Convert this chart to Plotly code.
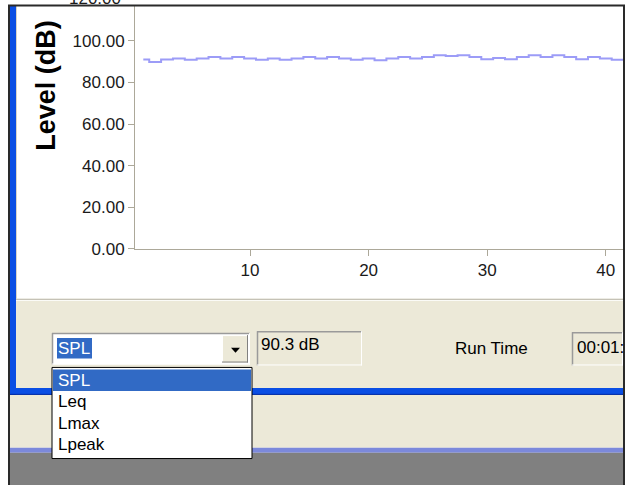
import plotly.graph_objects as go

# ---- data ----
time_s = list(range(1, 43))
spl_db = [91.0, 89.8, 91.0, 91.5, 90.9, 91.5, 92.2, 91.5, 92.2, 91.5,
          90.9, 91.5, 90.9, 91.5, 92.2, 91.5, 92.2, 91.5, 90.9, 91.5,
          90.7, 91.5, 92.2, 91.5, 92.2, 93.1, 92.7, 93.1, 92.2, 91.2,
          91.8, 91.2, 92.2, 93.1, 92.2, 93.1, 92.2, 91.2, 92.2, 91.5,
          90.9, 90.9]
x_ticks = [10, 20, 30, 40]
y_ticks = [0, 20, 40, 60, 80, 100]
y_title = "Level (dB)"
list_items = ["SPL", "Leq", "Lmax", "Lpeak"]
current_value = "90.3 dB"
run_time_label = "Run Time"
run_time_value = "00:01:"

W, H = 625, 495
FONT = "Liberation Sans, Arial, sans-serif"


def X(px):
    return px / W


def Y(py):
    return 1 - py / H


shapes = []


def rect(x0, y0, x1, y1, fill, line=None, lw=1, layer="above"):
    shapes.append(dict(type="rect", xref="paper", yref="paper",
                       x0=X(x0), x1=X(x1), y0=Y(y1), y1=Y(y0),
                       fillcolor=fill,
                       line=dict(color=line if line else fill, width=lw if line else 0),
                       layer=layer))


def hline(x0, x1, y, color, w=1):
    shapes.append(dict(type="line", xref="paper", yref="paper",
                       x0=X(x0), x1=X(x1), y0=Y(y), y1=Y(y),
                       line=dict(color=color, width=w), layer="above"))


def vline(x, y0, y1, color, w=1):
    shapes.append(dict(type="line", xref="paper", yref="paper",
                       x0=X(x), x1=X(x), y0=Y(y0), y1=Y(y1),
                       line=dict(color=color, width=w), layer="above"))


def sunken(x0, y0, x1, y1, fill):
    rect(x0, y0, x1, y1, fill)
    hline(x0, x1, y0 + 0.5, "#9A9A9A", 1.5)
    vline(x0 + 0.5, y0, y1, "#9A9A9A", 1.5)
    hline(x0, x1, y1 - 0.5, "#FFFFFF", 1)
    vline(x1 - 0.5, y0, y1, "#FFFFFF", 1)


BEIGE = "#ECE9D8"
BLUE = "#0A4EE4"

# white strip above the top border
rect(8, 0, 625, 5, "#FFFFFF")
# lower beige panels and gray area
rect(16, 305, 623, 396, BEIGE)
hline(16, 623, 305.5, "#ACA899", 1)
hline(16, 623, 306.5, "#FFFFFF", 1)
rect(10, 403, 623, 457, BEIGE)
rect(10, 457, 623, 462, "#7C89DB")
rect(10, 462, 623, 495, "#808080")
# blue frame bars
rect(10, 6, 16, 403, BLUE)
rect(10, 396, 623, 403, BLUE)
hline(10, 623, 402.5, "#0028A0", 1)
vline(16.5, 6, 305, "#D8D4C8", 1)
# dark outer borders
vline(9, 5, 495, "#2A2A2A", 2)
hline(8, 625, 5.5, "#2A2A2A", 2)
vline(624, 5, 495, "#2A2A2A", 2)

# combo box
sunken(52, 340, 250, 372, "#FFFFFF")
rect(57, 345, 92, 366, "#316AC5")
rect(222, 342, 248, 370, BEIGE)
hline(222, 248, 342.5, "#FFFFFF", 1)
vline(222.5, 342, 370, "#FFFFFF", 1)
hline(222, 248, 369.5, "#808080", 1)
vline(247.5, 342, 370, "#808080", 1)
shapes.append(dict(type="path", xref="paper", yref="paper", layer="above",
                   path=f"M {X(231)},{Y(355)} L {X(240)},{Y(355)} L {X(235.5)},{Y(360)} Z",
                   fillcolor="#000000", line=dict(color="#000000", width=0)))

# value boxes
sunken(257, 338, 362, 373, BEIGE)
sunken(572, 339, 623, 373, BEIGE)

# dropdown list
rect(52, 375, 252, 468, "#FFFFFF", "#000000", 1)
rect(53, 377, 251, 399, "#316AC5")

fig = go.Figure(go.Scatter(x=time_s, y=spl_db, mode="lines",
                           line=dict(color="#9C9CF7", width=2, shape="hvh"),
                           hoverinfo="skip"))

annotations = []


def text(t, x, y, size=17, color="#000000", xanchor="left", bold=False, angle=0):
    annotations.append(dict(text=f"<b>{t}</b>" if bold else t,
                            xref="paper", yref="paper", x=X(x), y=Y(y),
                            xanchor=xanchor, yanchor="middle", showarrow=False,
                            textangle=angle,
                            font=dict(family=FONT, size=size, color=color)))


text(y_title, 46, 87.5, size=27, bold=True, xanchor="center", angle=-90)
text("120.00", 123, -1.5, color="#1a1a1a", xanchor="right")
text(list_items[0], 56, 356, color="#FFFFFF")
text(current_value, 259, 352)
text(run_time_label, 453, 356)
text(run_time_value, 575, 355)
row_y = [388, 410, 432, 454]
for i, item in enumerate(list_items):
    text(item, 56, row_y[i], color="#FFFFFF" if i == 0 else "#000000")

axis_style = dict(showline=True, linecolor="#ACA899", linewidth=1,
                  ticks="outside", ticklen=6, tickcolor="#ACA899",
                  showgrid=False, zeroline=False,
                  tickfont=dict(family=FONT, size=17, color="#1a1a1a"))

fig.update_layout(
    width=W, height=H, autosize=False,
    margin=dict(l=0, r=0, t=0, b=0),
    paper_bgcolor="#FFFFFF", plot_bgcolor="#FFFFFF",
    showlegend=False,
    xaxis=dict(domain=[X(135), X(623)], range=[0.30, 41.45],
               tickvals=x_ticks, **axis_style),
    yaxis=dict(domain=[Y(254), 1], range=[0, 119.64],
               tickvals=y_ticks, tickformat=".2f", **axis_style),
    shapes=shapes,
    annotations=annotations,
)

fig.write_html("out.html",
               config={"displayModeBar": False, "responsive": False},
               post_script="document.body.style.margin='0';document.body.style.overflow='hidden';")
